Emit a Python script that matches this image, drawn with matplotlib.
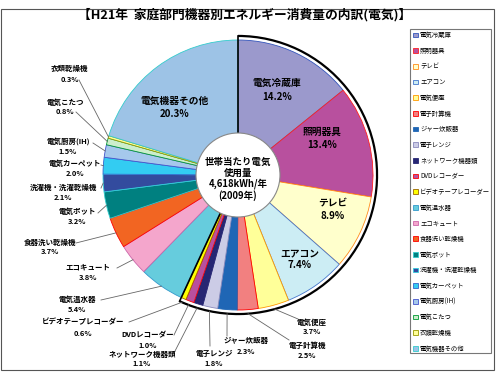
import matplotlib.pyplot as plt
from matplotlib.patches import Arc, Circle, Rectangle
import numpy as np

plt.rcParams['font.family'] = ['Noto Sans CJK JP', 'DejaVu Sans']

# data (household electricity use by appliance, FY2009)
names = ['電気冷蔵庫', '照明器具', 'テレビ', 'エアコン', '電気便座', '電子計算機',
         'ジャー炊飯器', '電子レンジ', 'ネットワーク機器類', 'DVDレコーダー',
         'ビデオテープレコーダー', '電気温水器', 'エコキュート', '食器洗い乾燥機',
         '電気ポット', '洗濯機・洗濯乾燥機', '電気カーペット', '電気厨房(IH)',
         '電気こたつ', '衣類乾燥機', '電気機器その他']
values = [14.2, 13.4, 8.9, 7.4, 3.7, 2.5, 2.3, 1.8, 1.1, 1.0, 0.6,
          5.4, 3.8, 3.7, 3.2, 2.1, 2.0, 1.5, 0.8, 0.3, 20.3]
colors = ['#9b99cc', '#b8509e', '#ffffcc', '#ccedf4', '#ffff99', '#f28080',
          '#1f66b5', '#ccccE6', '#262673', '#b8509e', '#ffff00',
          '#66ccdd', '#f4a6cc', '#f26522', '#008080', '#334b9e', '#33ccf2',
          '#a5c8ec', '#cceecc', '#ffff99', '#9dc3e6']
edges = ['#3355bb', '#ff2020', '#ff8c1a', '#4477cc', '#ff9900', '#ff0000',
         '#1f66b5', '#8888bb', '#262673', '#ff0000', '#996600',
         '#3399cc', '#cc66aa', '#ff0000', '#33cccc', '#33ccdd', '#3366cc',
         '#4455cc', '#009933', '#999900', '#33cccc']
n_major = 11   # first 11 items are grouped by the black arc
title = '【H21年  家庭部門機器別エネルギー消費量の内訳(電気)】'
center_text = ['世帯当たり電気', '使用量', '4,618kWh/年', '(2009年)']

W, H = 500, 372
fig = plt.figure(figsize=(5, 3.72), dpi=100)
ax = fig.add_axes([0, 0, 1, 1])

def P(y):
    return H - y

cx, cy, R = 238, P(175), 135
wedges, _ = ax.pie(values, colors=colors, startangle=90, counterclock=False,
                   center=(cx, cy), radius=R, wedgeprops=dict(linewidth=0.6))
for w, e in zip(wedges, edges):
    w.set_edgecolor(e)

# center hole
ax.add_patch(Circle((cx, cy), 42, facecolor='white', edgecolor='#888888', lw=0.8, zorder=3))
for t, yy in zip(center_text, [162, 173, 184, 196]):
    ax.text(cx, P(yy), t, ha='center', va='center', fontsize=6.8, fontweight='bold', zorder=4)

# black arc around the major group
a_end = wedges[n_major - 1].theta1
Rb = R * 1.03
ax.add_patch(Arc((cx, cy), 2 * Rb, 2 * Rb, theta1=a_end, theta2=90, color='black', lw=1.6))
for a in [90, a_end]:
    r = np.radians(a)
    ax.plot([cx + 42 * np.cos(r), cx + Rb * np.cos(r)],
            [cy + 42 * np.sin(r), cy + Rb * np.sin(r)], color='black', lw=1.2, zorder=2)

# inside labels: index, x, name y, pct y
inner = [(0, 277, 83, 97), (1, 322, 132, 145), (2, 333, 203, 216),
         (3, 300, 253, 265), (20, 175, 101, 114)]
for i, x, y1, y2 in inner:
    ax.text(x, P(y1), names[i], ha='center', va='center', fontsize=7, fontweight='bold')
    ax.text(x, P(y2), f'{values[i]}%', ha='center', va='center', fontsize=7, fontweight='bold')

# outside labels: index, x, name y, pct y, line start x, y
outer = [(19, 70, 68, 79, 79, 80), (18, 65, 102, 112, 76, 112),
         (17, 68, 141, 151, 93, 143), (16, 75, 163, 174, 101, 165),
         (15, 63, 187, 197, 101, 188), (14, 77, 211, 221, 98, 213),
         (13, 50, 242, 252, 76, 243), (12, 88, 267, 278, 117, 268),
         (11, 77, 299, 309, 101, 300), (10, 83, 322, 333, 129, 322),
         (9, 148, 335, 345, 174, 335), (8, 142, 354, 364, 174, 353),
         (7, 214, 353, 364, 210, 346), (6, 246, 340, 351, 227, 336),
         (5, 307, 345, 355, 289, 340), (4, 312, 322, 332, 298, 319)]
for i, x, y1, y2, sx, sy in outer:
    ax.text(x, P(y1), names[i], ha='center', va='center', fontsize=5.4, fontweight='bold')
    ax.text(x, P(y2), f'{values[i]}%', ha='center', va='center', fontsize=5.4, fontweight='bold')
    w = wedges[i]
    a = np.radians((w.theta1 + w.theta2) / 2)
    rr = Rb if i < n_major else R
    ax.plot([sx, cx + rr * np.cos(a)], [P(sy), cy + rr * np.sin(a)],
            color='#666666', lw=0.6, zorder=1)

ax.text(245, P(15), title, ha='center', va='center', fontsize=9.2, fontweight='bold')

# legend with a fixed box
ax.legend(wedges, names, frameon=False, loc='upper left',
          bbox_to_anchor=(412 / W, P(30) / H), fontsize=4.6,
          handlelength=0.7, handleheight=0.7, handletextpad=0.35,
          labelspacing=1.2, borderpad=0.2, borderaxespad=0)
ax.add_patch(Rectangle((410, P(353)), 81, 324, facecolor='none', edgecolor='#777777', lw=0.8))
ax.add_patch(Rectangle((1, P(370)), 493, 361, facecolor='none', edgecolor='#555555', lw=0.8))

ax.set_xlim(0, W)
ax.set_ylim(0, H)
ax.set_aspect('equal')
ax.axis('off')
fig.savefig('out.png', dpi=100)
